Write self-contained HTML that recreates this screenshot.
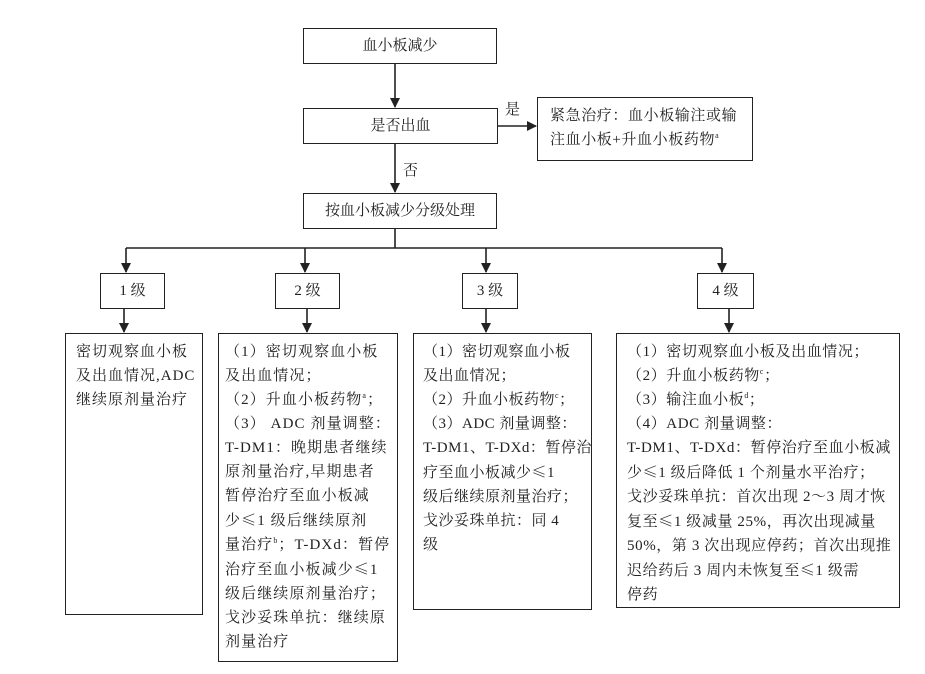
<!DOCTYPE html>
<html><head><meta charset="utf-8"><style>
body{margin:0;width:925px;height:674px;background:#fff;position:relative;overflow:hidden;font-family:"Liberation Serif","Noto Serif CJK SC",serif;color:#222}
.b{position:absolute;border:1.6px solid #222;box-sizing:border-box;background:transparent}
.t{position:absolute;font-size:15px;line-height:24px;white-space:nowrap}
.c{text-align:center}
.k{font-family:"Noto Serif CJK SC",serif}
sup{font-size:8px;vertical-align:6px;line-height:0}
</style></head><body>
<svg width="925" height="674" style="position:absolute;left:0;top:0">
<defs><marker id="a" markerWidth="10" markerHeight="10" refX="9" refY="5" orient="auto" markerUnits="userSpaceOnUse"><path d="M0,0 L10,5 L0,10z" fill="#222"/></marker></defs>
<g stroke="#222" stroke-width="1.6" fill="none">
<line x1="395" y1="64" x2="395" y2="107" marker-end="url(#a)"/>
<line x1="498" y1="126" x2="536" y2="126" marker-end="url(#a)"/>
<line x1="395" y1="144" x2="395" y2="192" marker-end="url(#a)"/>
<line x1="395" y1="229" x2="395" y2="248"/>
<line x1="126" y1="248" x2="722" y2="248"/>
<line x1="126" y1="248" x2="126" y2="272" marker-end="url(#a)"/>
<line x1="305" y1="248" x2="305" y2="272" marker-end="url(#a)"/>
<line x1="486" y1="248" x2="486" y2="272" marker-end="url(#a)"/>
<line x1="722" y1="248" x2="722" y2="272" marker-end="url(#a)"/>
<line x1="124" y1="309" x2="124" y2="332" marker-end="url(#a)"/>
<line x1="307" y1="309" x2="307" y2="332" marker-end="url(#a)"/>
<line x1="486" y1="309" x2="486" y2="332" marker-end="url(#a)"/>
<line x1="729" y1="309" x2="729" y2="332" marker-end="url(#a)"/>
</g></svg>

<div class="b" style="left:303px;top:28px;width:194px;height:36px"></div>
<div class="t c" style="left:303px;top:34px;width:194px">血小板减少</div>
<div class="b" style="left:303px;top:108px;width:195px;height:36px"></div>
<div class="t c" style="left:303px;top:114px;width:195px">是否出血</div>
<div class="t" style="left:505px;top:98px">是</div>
<div class="t" style="left:403px;top:159px">否</div>
<div class="b" style="left:537px;top:97px;width:216px;height:64px"></div>
<div class="t" style="left:550px;top:104px;letter-spacing:0.6px">紧急治疗：血小板输注或输<br>注血小板+升血小板药物<sup>a</sup></div>
<div class="b" style="left:303px;top:193px;width:194px;height:36px"></div>
<div class="t c" style="left:303px;top:199px;width:194px">按血小板减少分级处理</div>

<div class="b" style="left:100px;top:273px;width:65px;height:36px"></div>
<div class="t c" style="left:100px;top:279px;width:65px">1 级</div>
<div class="b" style="left:275px;top:273px;width:65px;height:36px"></div>
<div class="t c" style="left:275px;top:279px;width:65px">2 级</div>
<div class="b" style="left:462px;top:273px;width:56px;height:36px"></div>
<div class="t c" style="left:462px;top:279px;width:56px">3 级</div>
<div class="b" style="left:697px;top:273px;width:57px;height:36px"></div>
<div class="t c" style="left:697px;top:279px;width:57px">4 级</div>

<div class="b" style="left:65px;top:333px;width:138px;height:282px"></div>
<div class="t" style="left:76px;top:340px;letter-spacing:1px">密切观察血小板<br>及出血情况,ADC<br>继续原剂量治疗</div>

<div class="b" style="left:218px;top:333px;width:180px;height:329px"></div>
<div class="t" style="left:225px;top:340px;letter-spacing:1.1px">（1）密切观察血小板<br>及出血情况；<br>（2）升血小板药物<sup>a</sup>；<br>（3） ADC 剂量调整：<br>T-DM1：晚期患者继续<br>原剂量治疗,早期患者<br>暂停治疗至血小板减<br>少<span class="k">≤</span>1 级后继续原剂<br>量治疗<sup>b</sup>；T-DXd：暂停<br>治疗至血小板减少<span class="k">≤</span>1<br>级后继续原剂量治疗；<br>戈沙妥珠单抗：继续原<br>剂量治疗</div>

<div class="b" style="left:413px;top:333px;width:179px;height:277px"></div>
<div class="t" style="left:423px;top:340px;letter-spacing:0.5px">（1）密切观察血小板<br>及出血情况；<br>（2）升血小板药物<sup>c</sup>；<br>（3）ADC 剂量调整：<br>T-DM1、T-DXd：暂停治<br>疗至血小板减少<span class="k">≤</span>1<br>级后继续原剂量治疗；<br>戈沙妥珠单抗：同 4<br>级</div>

<div class="b" style="left:616px;top:333px;width:284px;height:275px"></div>
<div class="t" style="left:627px;top:340px;letter-spacing:0.6px">（1）密切观察血小板及出血情况；<br>（2）升血小板药物<sup>c</sup>；<br>（3）输注血小板<sup>d</sup>；<br>（4）ADC 剂量调整：<br>T-DM1、T-DXd：暂停治疗至血小板减<br>少<span class="k">≤</span>1 级后降低 1 个剂量水平治疗；<br>戈沙妥珠单抗：首次出现 2～3 周才恢<br>复至<span class="k">≤</span>1 级减量 25%，再次出现减量<br>50%，第 3 次出现应停药；首次出现推<br>迟给药后 3 周内未恢复至<span class="k">≤</span>1 级需<br>停药</div>
</body></html>
